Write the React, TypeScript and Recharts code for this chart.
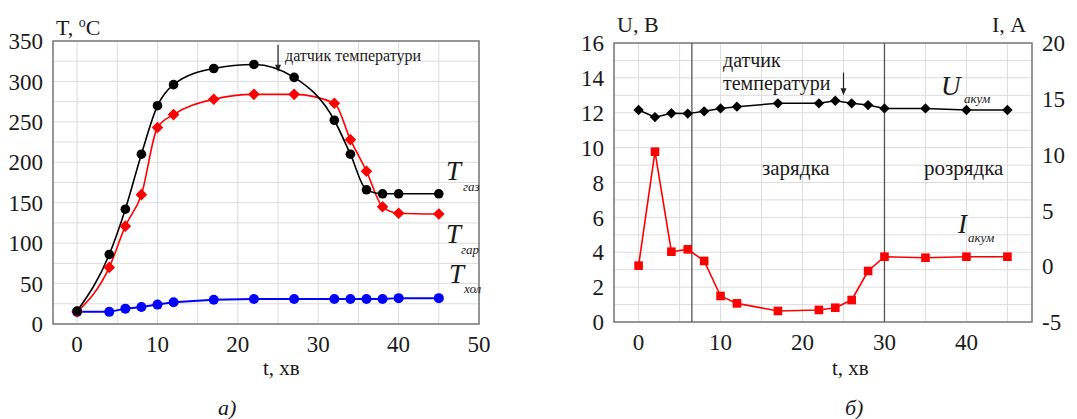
import React from 'react'
import { LineChart, Line, XAxis, YAxis, CartesianGrid, ReferenceLine, ReferenceArea } from 'recharts'

// left panel: temperatures vs time
const tTime = [0, 4, 6, 8, 10, 12, 17, 22, 27, 32, 34, 36, 38, 40, 45]
const tGas = [16, 86, 142, 210, 270, 296, 316, 321, 305, 252, 210, 166, 161, 161, 161]
const tGar = [15, 70, 121, 160, 243, 259, 278, 284, 284, 273, 228, 189, 145, 137, 136]
const tHol = [15, 15, 19, 21, 24, 27, 30, 31, 31, 31, 31, 31, 31, 32, 32]
const tXTicks = [0, 5, 10, 15, 20, 25, 30, 35, 40, 45, 50]
const tYTicks = [0, 25, 50, 75, 100, 125, 150, 175, 200, 225, 250, 275, 300, 325, 350]

// right panel: battery voltage and current
const bTime = [0, 2, 4, 6, 8, 10, 12, 17, 22, 24, 26, 28, 30, 35, 40, 45]
const bU = [12.16, 11.75, 11.97, 11.95, 12.08, 12.25, 12.35, 12.54, 12.54, 12.69, 12.54, 12.44, 12.25, 12.25, 12.16, 12.16]
const bI = [0.05, 10.26, 1.3, 1.51, 0.47, -2.67, -3.33, -4.01, -3.92, -3.72, -3.03, -0.43, 0.85, 0.76, 0.85, 0.85]
const bXTicks = [0, 5, 10, 15, 20, 25, 30, 35, 40, 45]
const bUTicks = [0, 1, 2, 3, 4, 5, 6, 7, 8, 9, 10, 11, 12, 13, 14, 15, 16]
const bITicks = [-5, 0, 5, 10, 15, 20]
const phaseLines = [6.5, 30]

const serif = '"Liberation Serif", "DejaVu Serif", serif'
const tickStyle = { fontSize: 23, fill: '#1a1a1a', fontFamily: serif }
const gridColor = '#dcdcdc'
const frameColor = '#7a7a7a'

const tempData = tTime.map((t, i) => ({ t, gas: tGas[i], gar: tGar[i], hol: tHol[i] }))
const battData = bTime.map((t, i) => ({ t, u: bU[i], i: bI[i] }))

const circleDot = (color: string, r: number) => (p: any) =>
  <circle key={p.index} cx={p.cx} cy={p.cy} r={r} fill={color} stroke="none" />

const diamondDot = (color: string, s: number) => (p: any) =>
  <path key={p.index} d={`M${p.cx},${p.cy - s}L${p.cx + s},${p.cy}L${p.cx},${p.cy + s}L${p.cx - s},${p.cy}Z`} fill={color} stroke="none" />

const squareDot = (color: string, s: number) => (p: any) =>
  <rect key={p.index} x={p.cx - s} y={p.cy - s} width={2 * s} height={2 * s} fill={color} stroke="none" />

// small vertical arrow pointing down, drawn between segment ends
const Arrow = (p: any) => {
  const { x1, y1, x2, y2 } = p
  return (
    <g>
      <line x1={x1} y1={y1} x2={x2} y2={y2 - 5} stroke="#222" strokeWidth={1.2} />
      <path d={`M${x2 - 3},${y2 - 7}L${x2 + 3},${y2 - 7}L${x2},${y2}Z`} fill="#222" />
    </g>
  )
}

const txt = (left: number, top: number, size: number, extra: React.CSSProperties = {}): React.CSSProperties => ({
  position: 'absolute', left, top, fontSize: size, fontFamily: serif, color: '#1a1a1a', whiteSpace: 'nowrap', lineHeight: 1, ...extra
})

export default function App() {
  return (
    <div style={{ position: 'absolute', left: 0, top: 0, width: 1077, height: 419, background: '#fff', overflow: 'hidden' }}>
      <div style={{ position: 'absolute', left: 0, top: 0 }}>
        <LineChart width={540} height={419} data={tempData} margin={{ top: 41, right: 61, bottom: 65, left: 0 }}>
          <CartesianGrid stroke={gridColor} strokeWidth={1} />
          <XAxis dataKey="t" type="number" domain={[-3, 50]} ticks={tXTicks} interval={0} allowDataOverflow
            tickFormatter={(v: number) => (v % 10 === 0 ? String(v) : '')} tick={tickStyle} tickLine={false} axisLine={false} height={30} tickMargin={6} />
          <YAxis type="number" domain={[0, 350]} ticks={tYTicks} interval={0}
            tickFormatter={(v: number) => (v % 50 === 0 ? String(v) : '')} tick={tickStyle} tickLine={false} axisLine={false} width={53} tickMargin={4} />
          <ReferenceArea x1={-3} x2={50} y1={0} y2={350} fill="none" stroke={frameColor} strokeWidth={1.5} />
          <ReferenceLine segment={[{ x: 25, y: 345 }, { x: 25, y: 312 }]} shape={Arrow} />
          <Line dataKey="hol" type="linear" stroke="#0000ff" strokeWidth={2} dot={circleDot('#0000ff', 5)} isAnimationActive={false} />
          <Line dataKey="gar" type="monotone" stroke="#ff0000" strokeWidth={1.6} dot={diamondDot('#ff0000', 5.8)} isAnimationActive={false} />
          <Line dataKey="gas" type="monotone" stroke="#000" strokeWidth={1.6} dot={circleDot('#000', 4.8)} isAnimationActive={false} />
        </LineChart>
      </div>

      <div style={{ position: 'absolute', left: 540, top: 0 }}>
        <LineChart width={537} height={419} data={battData} margin={{ top: 43, right: 0, bottom: 67, left: 0 }}>
          <CartesianGrid stroke={gridColor} strokeWidth={1} yAxisId="u" />
          <XAxis dataKey="t" type="number" domain={[-3, 48]} ticks={bXTicks} interval={0} allowDataOverflow
            tickFormatter={(v: number) => (v % 10 === 0 ? String(v) : '')} tick={tickStyle} tickLine={false} axisLine={false} height={30} tickMargin={6} />
          <YAxis yAxisId="u" type="number" domain={[0, 16]} ticks={bUTicks} interval={0}
            tickFormatter={(v: number) => (v % 2 === 0 ? String(v) : '')} tick={tickStyle} tickLine={false} axisLine={false} width={74} tickMargin={4} />
          <YAxis yAxisId="i" orientation="right" type="number" domain={[-5, 20]} ticks={bITicks} interval={0}
            tick={tickStyle} tickLine={false} axisLine={false} width={45} tickMargin={4} />
          <ReferenceArea yAxisId="u" x1={-3} x2={48} y1={0} y2={16} fill="none" stroke={frameColor} strokeWidth={1.5} />
          {phaseLines.map(x => (
            <ReferenceLine key={x} yAxisId="u" x={x} stroke="#555" strokeWidth={1.3} />
          ))}
          <ReferenceLine yAxisId="u" segment={[{ x: 25, y: 14.3 }, { x: 25, y: 13.0 }]} shape={Arrow} />
          <Line yAxisId="i" dataKey="i" type="linear" stroke="#ff0000" strokeWidth={1.6} dot={squareDot('#ff0000', 4.3)} isAnimationActive={false} />
          <Line yAxisId="u" dataKey="u" type="linear" stroke="#000" strokeWidth={1.5} dot={diamondDot('#000', 5.2)} isAnimationActive={false} />
        </LineChart>
      </div>

      {/* left panel labels */}
      <div style={txt(56, 16, 22)}>T, <sup style={{ fontSize: 14 }}>o</sup>C</div>
      <div style={txt(285, 48, 16)}>датчик температури</div>
      <div style={txt(446, 158, 27, { fontStyle: 'italic' })}>T</div>
      <div style={txt(463, 180, 13, { fontStyle: 'italic' })}>газ</div>
      <div style={txt(446, 221, 27, { fontStyle: 'italic' })}>T</div>
      <div style={txt(461, 243, 13, { fontStyle: 'italic' })}>гар</div>
      <div style={txt(449, 261, 27, { fontStyle: 'italic' })}>T</div>
      <div style={txt(464, 282, 13, { fontStyle: 'italic' })}>хол</div>
      <div style={txt(263, 358, 21)}>t, хв</div>
      <div style={txt(218, 397, 22, { fontStyle: 'italic' })}>а)</div>

      {/* right panel labels */}
      <div style={txt(617, 14, 22)}>U, В</div>
      <div style={txt(992, 14, 22)}>I, А</div>
      <div style={txt(723, 50, 20)}>датчик</div>
      <div style={txt(723, 73, 20)}>температури</div>
      <div style={txt(941, 73, 27, { fontStyle: 'italic' })}>U</div>
      <div style={txt(964, 92, 13, { fontStyle: 'italic' })}>акум</div>
      <div style={txt(762, 158, 21)}>зарядка</div>
      <div style={txt(924, 158, 21)}>розрядка</div>
      <div style={txt(958, 211, 27, { fontStyle: 'italic' })}>I</div>
      <div style={txt(968, 231, 13, { fontStyle: 'italic' })}>акум</div>
      <div style={txt(832, 358, 21)}>t, хв</div>
      <div style={txt(845, 397, 22, { fontStyle: 'italic' })}>б)</div>
    </div>
  )
}
